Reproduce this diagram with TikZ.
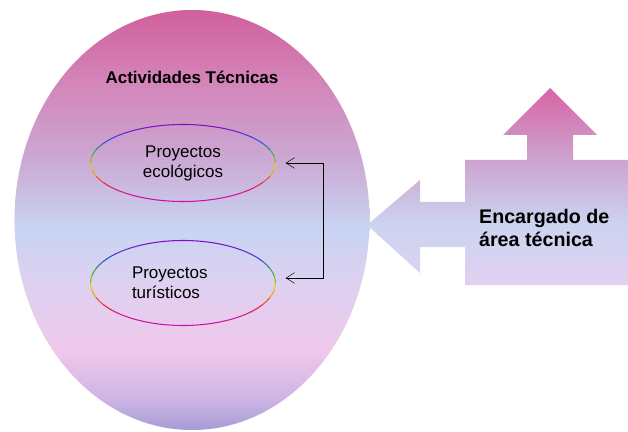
\documentclass[tikz,border=0pt]{standalone}
\usepackage{fontspec}
\setmainfont{Liberation Sans}
\usetikzlibrary{arrows.meta}
\definecolor{ovA}{HTML}{A49CD4}
\definecolor{ovB}{HTML}{CCB4E4}
\definecolor{ovC}{HTML}{F0C8EC}
\definecolor{ovD}{HTML}{E0D0F0}
\definecolor{ovE}{HTML}{C8D4F2}
\definecolor{ovF}{HTML}{CCA4D0}
\definecolor{ovG}{HTML}{D484B8}
\definecolor{ovH}{HTML}{D0609C}
\definecolor{arA}{HTML}{E2D0F2}
\definecolor{arB}{HTML}{CCD4F0}
\definecolor{arC}{HTML}{CCA4D0}
\definecolor{arD}{HTML}{D864A4}
\definecolor{rbViolet}{HTML}{8010C8}
\definecolor{rbBlue}{HTML}{3050E0}
\definecolor{rbGreen}{HTML}{40B040}
\definecolor{rbYellow}{HTML}{E8D000}
\definecolor{rbOrange}{HTML}{F08020}
\definecolor{rbRed}{HTML}{F02040}
\definecolor{rbMagenta}{HTML}{D010A0}
\pgfdeclareverticalshading{ovalshade}{100bp}{color(0bp)=(ovA); color(25bp)=(ovA); color(28.6bp)=(ovB); color(34.5bp)=(ovC); color(41.7bp)=(ovD); color(49bp)=(ovE); color(58.3bp)=(ovF); color(66.7bp)=(ovG); color(75bp)=(ovH); color(100bp)=(ovH)}
\pgfdeclareverticalshading{arrowshade}{100bp}{color(0bp)=(arA); color(25bp)=(arA); color(40.2bp)=(arB); color(56.7bp)=(arC); color(75bp)=(arD); color(100bp)=(arD)}
\tikzset{
  proyecto/.style={ellipse, minimum width=5.55cm, font=\fontsize{14.5}{17}\selectfont, align=center},
  conn/.style={{Straight Barb[length=2.5mm,width=3.2mm]}-{Straight Barb[length=2.5mm,width=3.2mm]}, thin}
}
\usetikzlibrary{shapes.geometric}
\begin{document}
\begin{tikzpicture}[x=0.03cm,y=-0.03cm]
\useasboundingbox (0,0) rectangle (628,432);
\node[ellipse, minimum width=10.65cm, minimum height=12.6cm, shading=ovalshade] (act) at (192,220) {};
\node[font=\bfseries\fontsize{14.5}{17}\selectfont] (titulo) at (192,77) {Actividades Técnicas};
\node[proyecto, minimum height=2.31cm] (eco) at (183,163) {Proyectos\\ecológicos};
\node[proyecto, minimum height=2.55cm, text width=3.06cm, align=left] (tur) at (183,283) {Proyectos\\turísticos};
\foreach \n/\ry in {eco/1.155cm, tur/1.275cm}
  \foreach \p/\q/\c in {0/40/rbMagenta, 40/50/rbMagenta!60!rbRed, 50/60/rbRed, 60/70/rbRed!50!rbOrange,
      70/80/rbOrange!50!rbYellow, 80/90/rbYellow, 90/100/rbYellow!40!rbGreen, 100/110/rbGreen,
      110/120/rbGreen!40!rbBlue, 120/130/rbBlue, 130/140/rbBlue!60!rbViolet, 140/150/rbBlue!30!rbViolet,
      150/180/rbViolet}
  {
    \draw[\c, line width=0.9pt] (\n.center) ++(270-\p:2.775cm and \ry) arc[start angle=270-\p, end angle=270-\q, x radius=2.775cm, y radius=\ry];
    \draw[\c, line width=0.9pt] (\n.center) ++(\p-90:2.775cm and \ry) arc[start angle=\p-90, end angle=\q-90, x radius=2.775cm, y radius=\ry];
  }
\draw[conn] ([xshift=0.3cm]eco.east) -- ++(37,0) |- ([xshift=0.3cm,yshift=0.15cm]tur.east);
\shade[shading=arrowshade] (367,225) -- (420,180) -- (420,202) -- (465,202) -- (465,160) -- (527,160) -- (527,135)
  -- (503,135) -- (550,88) -- (597,135) -- (573,135) -- (573,160) -- (628,160) -- (628,285) -- (465,285)
  -- (465,247) -- (420,247) -- (420,273) -- cycle;
\node[font=\bfseries\fontsize{16.8}{19.5}\selectfont, align=left, anchor=west] (enc) at (475,228) {Encargado de\\área técnica};
\end{tikzpicture}
\end{document}
